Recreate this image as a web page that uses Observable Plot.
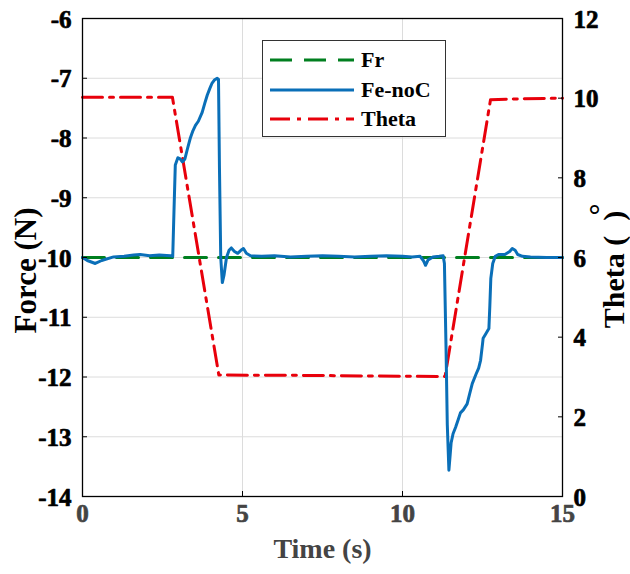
<!DOCTYPE html>
<html>
<head>
<meta charset="utf-8">
<script src="https://cdn.jsdelivr.net/npm/d3@7"></script>
<script src="https://cdn.jsdelivr.net/npm/@observablehq/plot@0.6"></script>
<style>
  body { margin: 0; background: #fff; }
  #wrap { position: relative; width: 630px; height: 574px; font-family: "Liberation Serif", "Times New Roman", serif; font-weight: bold; }
  #legend { position: absolute; left: 262px; top: 40px; width: 184px; height: 97px; border: 1.3px solid #333; background: #fff; box-sizing: border-box; }
  .item { position: absolute; left: 0; height: 24px; display: flex; align-items: center; }
  .item svg { margin-left: 7px; }
  .item span { margin-left: 7px; font-size: 22px; color: #000; }
</style>
</head>
<body>
<div id="wrap"></div>
<script>
// ---- data ----
const feTime = [0.00,0.15,0.40,0.60,0.97,1.30,1.60,1.80,2.10,2.40,2.75,2.82,2.86,2.90,2.98,3.05,3.12,3.20,3.28,3.37,3.45,3.53,3.62,3.74,3.82,3.90,3.98,4.05,4.12,4.21,4.25,4.28,4.32,4.37,4.42,4.50,4.58,4.65,4.75,4.85,4.95,5.03,5.12,5.25,5.60,6.00,6.50,7.00,7.50,8.00,8.50,9.00,9.50,10.00,10.30,10.55,10.65,10.72,10.80,10.95,11.15,11.27,11.31,11.36,11.40,11.45,11.49,11.52,11.58,11.66,11.75,11.81,11.90,12.02,12.10,12.18,12.30,12.38,12.44,12.50,12.52,12.60,12.70,12.73,12.76,12.82,12.90,13.00,13.20,13.35,13.43,13.52,13.60,13.75,14.00,14.50,15.00];
const feForce = [-10.00,-10.05,-10.10,-10.05,-9.99,-9.98,-9.96,-9.95,-9.97,-9.96,-9.97,-9.98,-9.20,-8.45,-8.33,-8.35,-8.40,-8.35,-8.18,-8.00,-7.88,-7.79,-7.72,-7.57,-7.42,-7.28,-7.17,-7.08,-7.03,-7.00,-7.02,-8.50,-10.00,-10.42,-10.30,-10.00,-9.88,-9.84,-9.90,-9.93,-9.88,-9.85,-9.93,-9.97,-9.98,-9.97,-9.99,-9.98,-9.97,-9.98,-9.99,-9.98,-9.97,-9.98,-9.99,-9.98,-10.05,-10.13,-10.04,-9.99,-9.98,-9.97,-10.10,-11.50,-12.80,-13.56,-13.30,-13.10,-12.95,-12.84,-12.70,-12.60,-12.55,-12.45,-12.28,-12.11,-11.95,-11.85,-11.72,-11.45,-11.35,-11.28,-11.19,-10.80,-10.35,-10.10,-9.98,-9.95,-9.95,-9.90,-9.85,-9.88,-9.95,-9.98,-9.99,-10.00,-10.00];
const frTime = [0, 15];
const frForce = [-10, -10];
const thetaTime = [0, 2.81, 4.26, 7.00, 11.33, 12.75, 13.50, 15.00];
const thetaDeg = [10.02, 10.02, 3.05, 3.04, 3.01, 9.96, 9.98, 10.00];
const xTicks = [0, 5, 10, 15];
const forceTicks = [-14, -13, -12, -11, -10, -9, -8, -7, -6];
const thetaTicks = [0, 2, 4, 6, 8, 10, 12];

// ---- build ----
const fMin = -14, fMax = -6, tMin = 0, tMax = 12;
const toForce = th => fMin + (th - tMin) * (fMax - fMin) / (tMax - tMin);

const fe = feTime.map((t, i) => ({t, v: feForce[i]}));
const fr = frTime.map((t, i) => ({t, v: frForce[i]}));
const th = thetaTime.map((t, i) => ({t, v: toForce(thetaDeg[i])}));

const font = "Liberation Serif";
const gridCol = "#dcdcdc";
const lab = {fontSize: 25, fontFamily: font, fontWeight: "bold", strokeWidth: 0.7};
const fmt = d => d < 0 ? "-" + Math.abs(d) : String(d);

const chart = Plot.plot({
  width: 630,
  height: 574,
  marginLeft: 82,
  marginRight: 68,
  marginTop: 18,
  marginBottom: 78,
  style: {fontFamily: font, fontWeight: "bold", background: "#fff"},
  x: {domain: [0, 15]},
  y: {domain: [fMin, fMax]},
  marks: [
    Plot.gridX(xTicks.slice(1, -1), {stroke: gridCol, strokeOpacity: 1, strokeWidth: 1}),
    Plot.gridY(forceTicks.slice(1, -1), {stroke: gridCol, strokeOpacity: 1, strokeWidth: 1}),
    Plot.line(fr, {x: "t", y: "v", stroke: "#007f1f", strokeWidth: 3, strokeDasharray: "22,12"}),
    Plot.line(th, {x: "t", y: "v", stroke: "#e8000b", strokeWidth: 3, strokeDasharray: "20,7,4,7"}),
    Plot.line(fe, {x: "t", y: "v", stroke: "#0a6fb8", strokeWidth: 3, strokeLinejoin: "round"}),
    Plot.frame({stroke: "#000", strokeWidth: 1.3}),
    // inward ticks (labels drawn separately below)
    Plot.axisY(forceTicks, {anchor: "left", tickSize: -5, stroke: "#000", label: null, tickFormat: () => ""}),
    Plot.axisY(thetaTicks.map(toForce), {anchor: "right", tickSize: -5, stroke: "#000", label: null, tickFormat: () => ""}),
    Plot.axisX(xTicks, {anchor: "bottom", tickSize: -5, stroke: "#000", label: null, tickFormat: () => ""}),
    // tick labels
    Plot.text(forceTicks, {y: d => d, text: fmt, frameAnchor: "left", textAnchor: "end", dx: -11, dy: 1, fill: "#000", stroke: "#000", ...lab}),
    Plot.text(thetaTicks, {y: d => toForce(d), text: d => String(d), frameAnchor: "right", textAnchor: "start", dx: 11, dy: 1, fill: "#000", stroke: "#000", ...lab}),
    Plot.text(xTicks, {x: d => d, text: d => String(d), frameAnchor: "bottom", textAnchor: "middle", dy: 25, fill: "#444", stroke: "#444", ...lab}),
    // axis titles
    Plot.text(["Force (N)"], {frameAnchor: "left", textAnchor: "middle", dx: -56, dy: 13, rotate: -90, fontSize: 31, fontFamily: font, fill: "#000", fontWeight: "bold"}),
    Plot.text(["Theta (  )"], {frameAnchor: "right", textAnchor: "middle", dx: 52, dy: 12, rotate: -90, fontSize: 30, fontFamily: font, fill: "#000", fontWeight: "bold"}),
    Plot.text(["°"], {frameAnchor: "right", textAnchor: "middle", dx: 38, dy: -48, rotate: -90, fontSize: 30, fontFamily: font, fill: "#000", fontWeight: "bold"}),
    Plot.text(["Time (s)"], {frameAnchor: "bottom", textAnchor: "middle", dy: 61, fontSize: 28, fontFamily: font, fill: "#444", fontWeight: "bold"})
  ]
});

const wrap = document.getElementById("wrap");
wrap.appendChild(chart);

// legend
const legendItems = [
  {name: "Fr", color: "#007f1f", dash: "22,12"},
  {name: "Fe-noC", color: "#0a6fb8", dash: null},
  {name: "Theta", color: "#e8000b", dash: "20,7,4,7"}
];
const lg = document.createElement("div");
lg.id = "legend";
legendItems.forEach((it, i) => {
  const row = document.createElement("div");
  row.className = "item";
  row.style.top = (7 + i * 29.5) + "px";
  row.innerHTML = `<svg width="84" height="6"><line x1="0" y1="3" x2="84" y2="3" stroke="${it.color}" stroke-width="3" ${it.dash ? `stroke-dasharray="${it.dash}"` : ""}/></svg><span>${it.name}</span>`;
  lg.appendChild(row);
});
wrap.appendChild(lg);
</script>
</body>
</html>
